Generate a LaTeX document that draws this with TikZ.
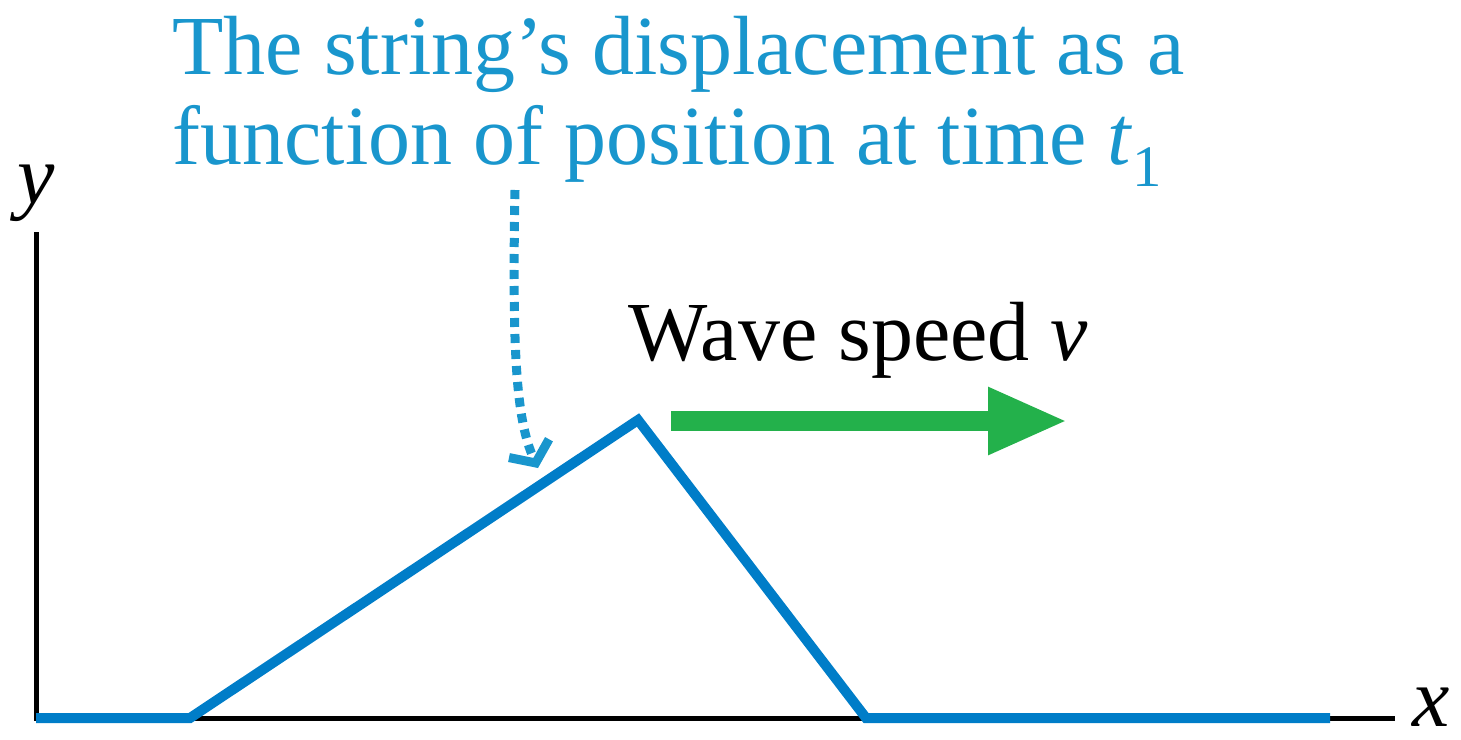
\documentclass[tikz,border=0pt]{standalone}
\usepackage{fontspec}
\setmainfont{Liberation Serif}
\usetikzlibrary{arrows.meta}

\definecolor{waveblue}{RGB}{0,125,200}
\definecolor{labelblue}{RGB}{25,150,205}
\definecolor{speedgreen}{RGB}{35,177,75}

\tikzset{
  axis/.style={black, line width=2.5pt},
  pulse/.style={waveblue, line width=5pt, line join=miter},
  bigtext/.style={font=\fontsize{42}{45}\selectfont, inner sep=0pt, anchor=base west},
}

\begin{document}
\begin{tikzpicture}[x=0.5pt, y=-0.5pt]
        \useasboundingbox (0, 0) rectangle (1461, 739);
        % axes
        \coordinate (O) at (36, 718);
        \coordinate (ytop) at (36, 232);
        \coordinate (xend) at (1395, 718);
        \draw[axis] (ytop) -- (O) -- (xend);
        \node[bigtext, anchor=base] (ylab) at (36, 203) {\textit{y}};
        \node[bigtext, anchor=base] (xlab) at (1431, 726) {\textit{x}};
        % pulse
        \coordinate (p0) at (36, 718);
        \coordinate (p1) at (190, 718);
        \coordinate (peak) at (638, 420);
        \coordinate (p3) at (866, 718);
        \coordinate (p4) at (1330, 718);
        \draw[pulse] (p0) -- (p1) -- (peak) -- (p3) -- (p4);
        % labels
        \node[bigtext, text=labelblue, align=left, anchor=north west] (caption) at (172, 16)
          {The string's displacement as a\\function of position at time \textit{t}\textsubscript{1}};
        \node[bigtext] (speed) at (628, 360) {Wave speed \textit{v}};
        % dotted pointer
        \coordinate (ptstart) at (515, 190);
        \coordinate (ptend) at (538, 468);
        \draw[labelblue, line width=4.5pt, dash pattern=on 4.5pt off 3.5pt,
              -{Straight Barb[length=8pt, width=22pt, line width=4.5pt]}]
          (ptstart) .. controls (512, 350) and (516, 420) .. (ptend);
        % speed arrow
        \coordinate (vstart) at (671, 421);
        \coordinate (vend) at (1068, 421);
        \draw[speedgreen, line width=10pt, -{Triangle[length=40pt, width=31pt]}] (vstart) -- (vend);
\end{tikzpicture}
\end{document}
